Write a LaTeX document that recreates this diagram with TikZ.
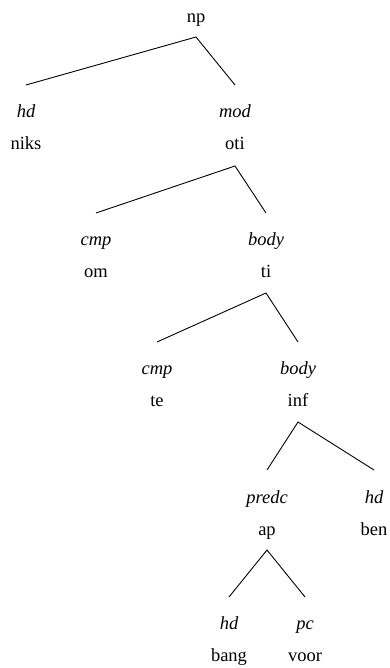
\documentclass[tikz,border=0pt]{standalone}
\usepackage{fontspec}
\setmainfont{Liberation Serif}
\usetikzlibrary{calc}

\tikzset{
  lbl/.style={anchor=base, inner sep=0pt, font=\fontsize{18.5}{22}\selectfont\itshape},
  wrd/.style={anchor=base, inner sep=0pt, font=\fontsize{18.5}{22}\selectfont},
  branch/.style={line width=0.9pt}
}

\begin{document}
\begin{tikzpicture}[x=1pt, y=-1pt]
\useasboundingbox (0,0) rectangle (390,668);

% Root
\node[wrd] (np) at (196,23) {np};

% Level 1
\node[lbl] (hdA) at (26,118) {hd};
\node[wrd] (niks) at (26,150) {niks};
\node[lbl] (modA) at (235,118) {mod};
\node[wrd] (oti) at (235,150) {oti};
\draw[branch] ($(hdA.base)+(0,-33)$) -- ($(np.base)+(0,14)$) -- ($(modA.base)+(0,-33)$);

% Level 2
\node[lbl] (cmpA) at (96,245) {cmp};
\node[wrd] (om) at (96,277) {om};
\node[lbl] (bodyA) at (266,245) {body};
\node[wrd] (ti) at (266,277) {ti};
\draw[branch] ($(cmpA.base)+(0,-32)$) -- ($(oti.base)+(0,16)$) -- ($(bodyA.base)+(0,-32)$);

% Level 3
\node[lbl] (cmpB) at (157,374) {cmp};
\node[wrd] (te) at (157,406) {te};
\node[lbl] (bodyB) at (298,374) {body};
\node[wrd] (inf) at (298,406) {inf};
\draw[branch] ($(cmpB.base)+(0,-32)$) -- ($(ti.base)+(0,16)$) -- ($(bodyB.base)+(0,-32)$);

% Level 4
\node[lbl] (predc) at (267,503) {predc};
\node[wrd] (ap) at (267,535) {ap};
\node[lbl] (hdB) at (374,503) {hd};
\node[wrd] (ben) at (374,535) {ben};
\draw[branch] ($(predc.base)+(0,-33)$) -- ($(inf.base)+(0,16)$) -- ($(hdB.base)+(0,-33)$);

% Level 5
\node[lbl] (hdC) at (229,629) {hd};
\node[wrd] (bang) at (229,661) {bang};
\node[lbl] (pc) at (305,629) {pc};
\node[wrd] (voor) at (305,661) {voor};
\draw[branch] ($(hdC.base)+(0,-32)$) -- ($(ap.base)+(0,15)$) -- ($(pc.base)+(0,-32)$);
\end{tikzpicture}
\end{document}
